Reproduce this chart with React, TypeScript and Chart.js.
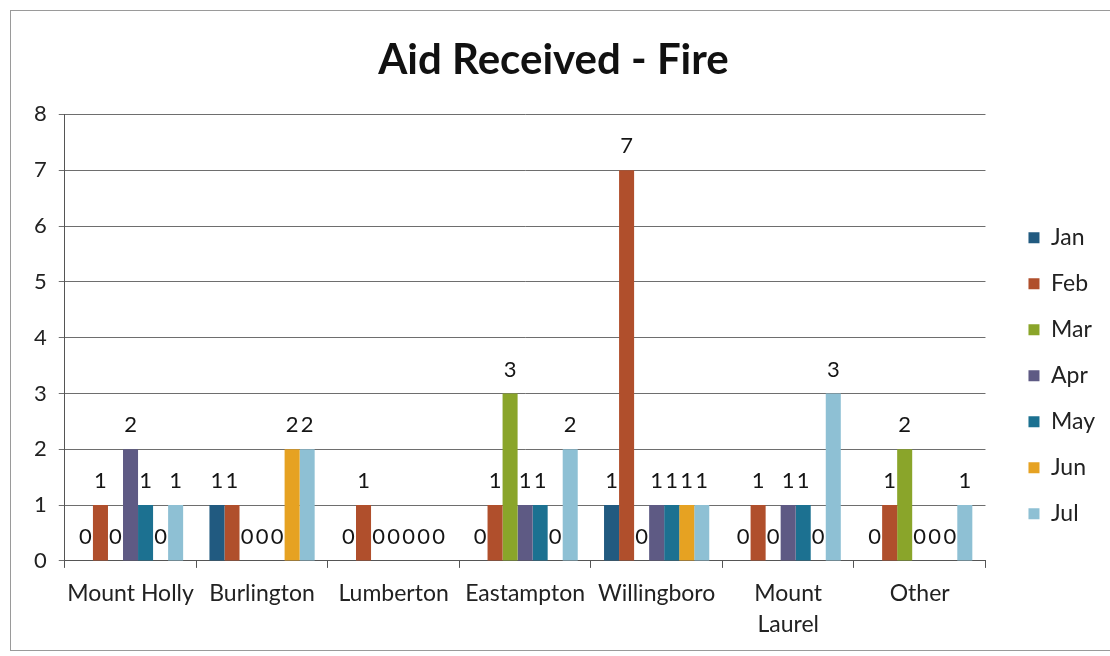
import React, { useEffect, useRef } from "react";
import { Chart, registerables } from "chart.js";

Chart.register(...registerables);

const categories: (string | string[])[] = [
  "Mount Holly",
  "Burlington",
  "Lumberton",
  "Eastampton",
  "Willingboro",
  ["Mount", "Laurel"],
  "Other",
];

const months = ["Jan", "Feb", "Mar", "Apr", "May", "Jun", "Jul"];

const jan = [0, 1, 0, 0, 1, 0, 0];
const feb = [1, 1, 1, 1, 7, 1, 1];
const mar = [0, 0, 0, 3, 0, 0, 2];
const apr = [2, 0, 0, 1, 1, 1, 0];
const may = [1, 0, 0, 1, 1, 1, 0];
const jun = [0, 2, 0, 0, 1, 0, 0];
const jul = [1, 2, 0, 2, 1, 3, 1];

const seriesValues = [jan, feb, mar, apr, may, jun, jul];
const seriesColors = [
  "#215a80",
  "#b04f2c",
  "#8aa52a",
  "#5e5a84",
  "#1c7191",
  "#e6a222",
  "#8ec0d4",
];

const yTicks = [0, 1, 2, 3, 4, 5, 6, 7, 8];

const FONT = "Lato, 'Open Sans', sans-serif";

const dataLabelPlugin = {
  id: "dataLabels",
  afterDatasetsDraw(chart: any) {
    const ctx = chart.ctx;
    ctx.save();
    ctx.font = `22px ${FONT}`;
    ctx.fillStyle = "#151515";
    ctx.textAlign = "center";
    ctx.textBaseline = "middle";
    chart.data.datasets.forEach((ds: any, di: number) => {
      const meta = chart.getDatasetMeta(di);
      meta.data.forEach((el: any, i: number) => {
        const v = ds.data[i];
        ctx.fillText(String(v), el.x, el.y - 24);
      });
    });
    ctx.restore();
  },
};

const borderPlugin = {
  id: "outerBorder",
  beforeDraw(chart: any) {
    const ctx = chart.ctx;
    ctx.save();
    ctx.fillStyle = "#ffffff";
    ctx.fillRect(0, 0, chart.width, chart.height);
    ctx.strokeStyle = "#9a9a9a";
    ctx.lineWidth = 1;
    ctx.strokeRect(10.5, 10.5, chart.width - 8, chart.height - 16);
    ctx.restore();
  },
};

// nudge the legend block to sit where the original places it
const legendOffsetPlugin = {
  id: "legendOffset",
  afterLayout(chart: any) {
    const lg = chart.legend;
    if (!lg) return;
    lg.left += 20;
    lg.right += 20;
    lg.top += 38;
    lg.bottom += 38;
  },
};

export default function App() {
  const ref = useRef<HTMLCanvasElement>(null);

  useEffect(() => {
    document.body.style.margin = "0";
    const canvas = ref.current;
    if (!canvas) return;
    const chart = new Chart(canvas, {
      type: "bar",
      data: {
        labels: categories,
        datasets: months.map((m, i) => ({
          label: m,
          data: seriesValues[i],
          backgroundColor: seriesColors[i],
          borderWidth: 0,
          categoryPercentage: 0.8,
          barPercentage: 1.0,
        })),
      },
      options: {
        animation: false,
        responsive: false,
        maintainAspectRatio: false,
        layout: { padding: { left: 22, right: 25, top: 10, bottom: 6 } },
        plugins: {
          title: {
            display: true,
            text: "Aid Received - Fire",
            color: "#111",
            font: { family: FONT, size: 42, weight: "bold" },
            padding: { top: 25, bottom: 29 },
          },
          legend: {
            display: true,
            position: "right",
            fullSize: false,
            labels: {
              color: "#222",
              font: { family: FONT, size: 23 },
              boxWidth: 11,
              boxHeight: 11,
              padding: 23,
            },
          },
          tooltip: { enabled: false },
        },
        scales: {
          x: {
            grid: {
              display: true,
              drawOnChartArea: false,
              drawTicks: true,
              tickLength: 7,
              color: "#555",
              offset: true,
            },
            border: { display: true, color: "#555", width: 1 },
            ticks: {
              color: "#222",
              font: { family: FONT, size: 23, lineHeight: 1.35 },
              maxRotation: 0,
              autoSkip: false,
              padding: 10,
            },
          },
          y: {
            min: 0,
            max: 8,
            afterBuildTicks: (axis: any) => {
              axis.ticks = yTicks.map((v) => ({ value: v }));
            },
            grid: {
              color: "#6e6e6e",
              lineWidth: 1,
              drawTicks: true,
              tickLength: 6,
            },
            border: { display: true, color: "#555", width: 1 },
            ticks: {
              color: "#222",
              font: { family: FONT, size: 22 },
              padding: 12,
            },
          },
        },
      },
      plugins: [borderPlugin, dataLabelPlugin, legendOffsetPlugin],
    });
    return () => chart.destroy();
  }, []);

  return (
    <div style={{ width: 1110, height: 656 }}>
      <canvas ref={ref} width={1110} height={656} style={{ display: "block" }} />
    </div>
  );
}
